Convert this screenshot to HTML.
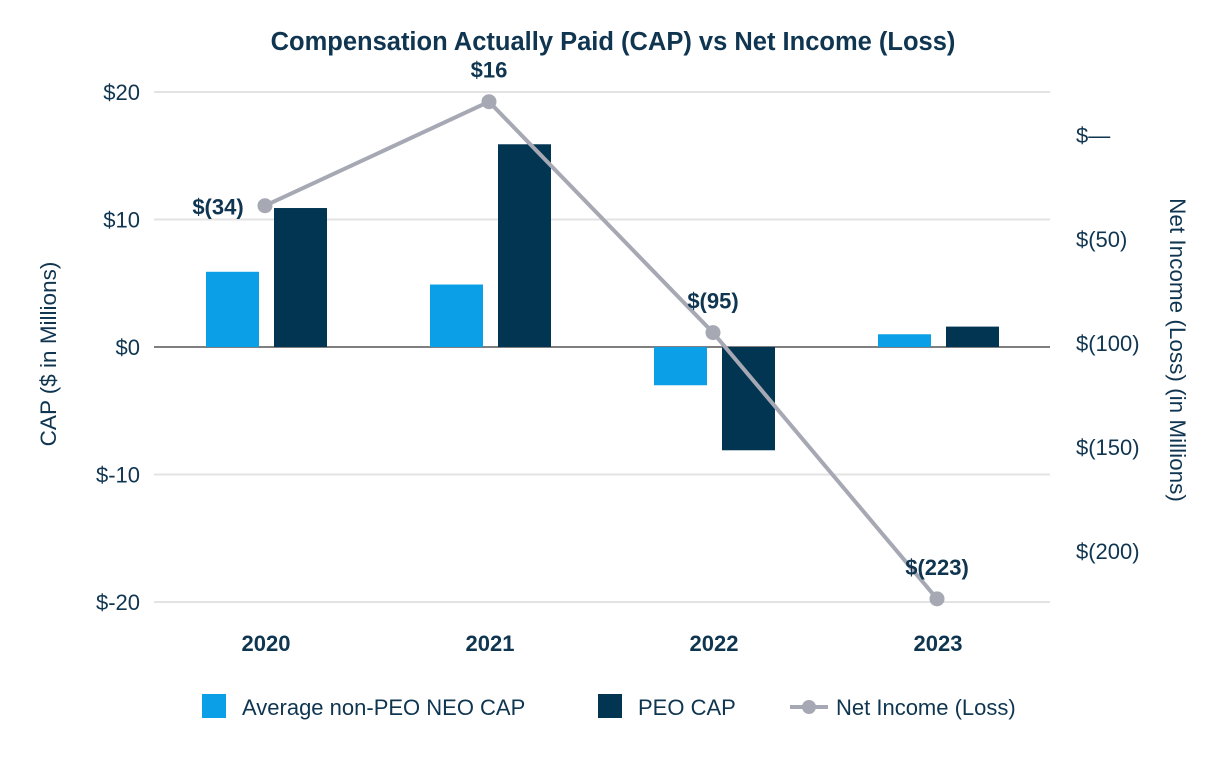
<!DOCTYPE html>
<html><head><meta charset="utf-8"><style>
body{margin:0;background:#fff;font-family:"Liberation Sans",sans-serif}
svg text{font-family:"Liberation Sans",sans-serif;fill:#0f3550}
</style></head><body>
<svg width="1226" height="760">
<g id="grid"></g><g id="bars"></g><g id="line"></g><g id="labels"></g>
<text x="613" y="50" text-anchor="middle" font-size="25.5" font-weight="bold">Compensation Actually Paid (CAP) vs Net Income (Loss)</text>
<text transform="translate(56,354) rotate(-90)" text-anchor="middle" font-size="22.5">CAP ($ in Millions)</text>
<text transform="translate(1170,350) rotate(90)" text-anchor="middle" font-size="22.5">Net Income (Loss) (in Millions)</text>
<g>
<rect x="202" y="694" width="24" height="24" fill="#0a9fe6"/>
<text x="242" y="715" font-size="22">Average non-PEO NEO CAP</text>
<rect x="598" y="694" width="24" height="24" fill="#023552"/>
<text x="638" y="715" font-size="22">PEO CAP</text>
<line x1="790" y1="707" x2="828" y2="707" stroke="#a6a9b4" stroke-width="4"/>
<circle cx="809" cy="707" r="7" fill="#a6a9b4"/>
<text x="836" y="715" font-size="22">Net Income (Loss)</text>
</g>
</svg>
<script>
const categories=["2020","2021","2022","2023"];
const neoCap=[5.9,4.9,-3.0,1.0];
const peoCap=[10.9,15.9,-8.1,1.6];
const netIncome=[-34,16,-95,-223];
const netLabels=["$(34)","$16","$(95)","$(223)"];
const leftTicks=[20,10,0,-10,-20];
const leftTickLabels=["$20","$10","$0","$-10","$-20"];
const rightTicks=[0,-50,-100,-150,-200];
const rightTickLabels=["$—","$(50)","$(100)","$(150)","$(200)"];
const NS="http://www.w3.org/2000/svg";
const yL=v=>347-v*12.75;
const yR=v=>135-v*2.08;
const xC=i=>154+224*i+112;
function mk(tag,attrs,parent,txt){const e=document.createElementNS(NS,tag);for(const k in attrs)e.setAttribute(k,attrs[k]);if(txt!=null)e.textContent=txt;document.getElementById(parent).appendChild(e);return e;}
leftTicks.forEach((t,i)=>{
 const g=mk('line',{x1:154,x2:1050,y1:yL(t),y2:yL(t),stroke:t===0?'#555':'#e3e3e3','stroke-width':t===0?1.5:2},'grid');
 
 
 const l=mk('text',{x:140,y:yL(t)+8,'text-anchor':'end','font-size':22},'grid',leftTickLabels[i]);
 
 
});
rightTicks.forEach((t,i)=>{
 const l=mk('text',{x:1076,y:yR(t)+8,'font-size':22},'grid',rightTickLabels[i]);
 
 
});
categories.forEach((c,i)=>{
 const cx=xC(i);
 const a=mk('rect',{x:cx-60,width:53,y:Math.min(yL(neoCap[i]),yL(0)),height:Math.abs(yL(neoCap[i])-yL(0)),fill:'#0a9fe6'},'bars');
 
 
 const b=mk('rect',{x:cx+8,width:53,y:Math.min(yL(peoCap[i]),yL(0)),height:Math.abs(yL(peoCap[i])-yL(0)),fill:'#023552'},'bars');
 
 
 const t=mk('text',{x:cx,y:651,'text-anchor':'middle','font-size':22,'font-weight':'bold'},'labels',c);
 
 
});
const pts=netIncome.map((v,i)=>(xC(i)-1)+','+yR(v)).join(' ');
const pl=mk('polyline',{points:pts,fill:'none',stroke:'#a6a9b4','stroke-width':4},'line');


netIncome.forEach((v,i)=>{
 const c=mk('circle',{cx:xC(i)-1,cy:yR(v),r:7.5,fill:'#a6a9b4'},'line');
 
 
 const first=i===0;
 const t=mk('text',{x:first?xC(i)-48:xC(i)-1,y:first?yR(v)+9:yR(v)-24,'text-anchor':'middle','font-size':22,'font-weight':'bold'},'labels',netLabels[i]);
 
 
});
</script>
</body></html>
